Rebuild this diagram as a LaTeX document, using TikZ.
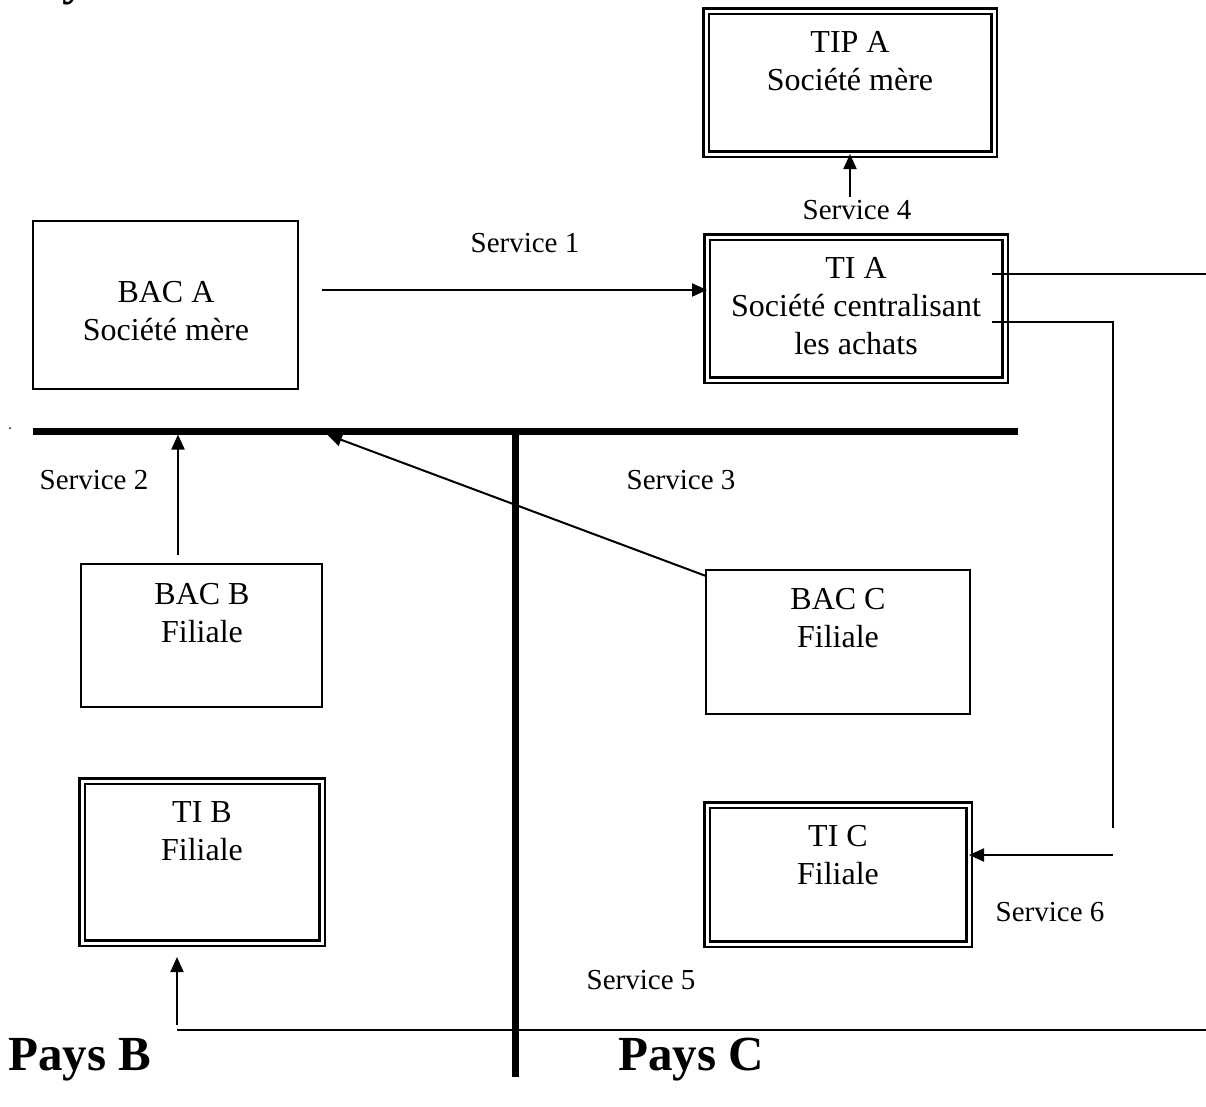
\documentclass[tikz,border=0pt]{standalone}
\usepackage{fontspec}
\setmainfont{Liberation Serif}
\usetikzlibrary{arrows.meta}
\begin{document}
\begin{tikzpicture}[x=1pt,y=-1pt,
  box/.style={draw, line width=2pt, inner sep=0pt, outer sep=0pt},
  dbox/.style={draw, line width=2.5pt, double, double distance=3pt, inner sep=0pt, outer sep=0pt},
  boxtext/.style={font=\fontsize{32}{38}\selectfont, align=center, inner sep=0pt},
  svc/.style={font=\fontsize{29}{34}\selectfont, inner sep=0pt},
  pays/.style={font=\fontsize{49}{58}\selectfont\bfseries, inner sep=0pt, anchor=base west},
  link/.style={line width=2pt},
  arr/.style={line width=2pt, -{Triangle[length=15pt,width=13pt]}},
  bar/.style={line width=7pt}]
\useasboundingbox (0,0) rectangle (1206,1106);
\clip (0,0) rectangle (1206,1106);

% country captions
\node[pays] (paysA) at (8,-6) {Pays A};
\node[pays] (paysB) at (8,1070) {Pays B};
\node[pays] (paysC) at (618,1070) {Pays C};
\fill (10,428) circle (1pt);

% border between the countries
\coordinate (barL) at (33,431);
\coordinate (barR) at (1018,431);
\coordinate (barT) at (515,431);
\coordinate (barB) at (515,1077);
\draw[bar] (barL) -- (barR);
\draw[bar] (barT) -- (barB);

% companies
\node[dbox, minimum width=288pt, minimum height=143pt] (tipA) at (850,82.5) {};
\node[boxtext] (tipAtxt) at (850,61.5) {TIP A\\Société mère};

\node[dbox, minimum width=298pt, minimum height=143pt] (tiA) at (856,308.5) {};
\node[boxtext] (tiAtxt) at (856,306) {TI A\\Société centralisant\\les achats};

\node[box, minimum width=265pt, minimum height=168pt] (bacA) at (165.5,305) {};
\node[boxtext] (bacAtxt) at (166,311.5) {BAC A\\Société mère};

\node[box, minimum width=241pt, minimum height=143pt] (bacB) at (201.5,635.5) {};
\node[boxtext] (bacBtxt) at (202,613) {BAC B\\Filiale};

\node[box, minimum width=264pt, minimum height=144pt] (bacC) at (838,642) {};
\node[boxtext] (bacCtxt) at (838,618.5) {BAC C\\Filiale};

\node[dbox, minimum width=240pt, minimum height=162pt] (tiB) at (202,862) {};
\node[boxtext] (tiBtxt) at (202,831.5) {TI B\\Filiale};

\node[dbox, minimum width=262pt, minimum height=139pt] (tiC) at (838,874.5) {};
\node[boxtext] (tiCtxt) at (838,855.5) {TI C\\Filiale};

% service labels
\node[svc] (s1) at (525,243) {Service 1};
\node[svc] (s2) at (94,480) {Service 2};
\node[svc] (s3) at (681,480) {Service 3};
\node[svc] (s4) at (857,210) {Service 4};
\node[svc] (s5) at (641,980) {Service 5};
\node[svc] (s6) at (1050,912) {Service 6};

% service 1
\coordinate (s1start) at (322,290);
\draw[arr] (s1start) -- (tiA.west |- s1start);

% service 4
\coordinate (s4start) at (850,197);
\draw[arr] (s4start) -- (tipA.south);

% service 2
\coordinate (s2start) at (178,555);
\coordinate (s2end) at (178,434.5);
\draw[arr] (s2start) -- (s2end);

% service 3
\coordinate (s3start) at ([yshift=-6pt]bacC.north west);
\coordinate (s3end) at (327,434.5);
\draw[arr] (s3start) -- (s3end);

% lines leaving TI A
\coordinate (tiAout1) at (992,274);
\coordinate (tiAfar) at (1206,274);
\coordinate (tiAout2) at (992,322);
\coordinate (s6down) at (1113,828);
\draw[link] (tiAout1) -- (tiAfar);
\draw[link] (tiAout2) -| (s6down);

% service 6
\coordinate (s6start) at (1113,855);
\draw[arr] (s6start) -- (tiC.east |- s6start);

% service 5
\coordinate (s5far) at (1206,1030);
\coordinate (s5corner) at (177,1030);
\coordinate (s5start) at (177,1025);
\coordinate (s5end) at (177,957);
\draw[link] (s5far) -- (s5corner);
\draw[arr] (s5start) -- (s5end);
\end{tikzpicture}
\end{document}
